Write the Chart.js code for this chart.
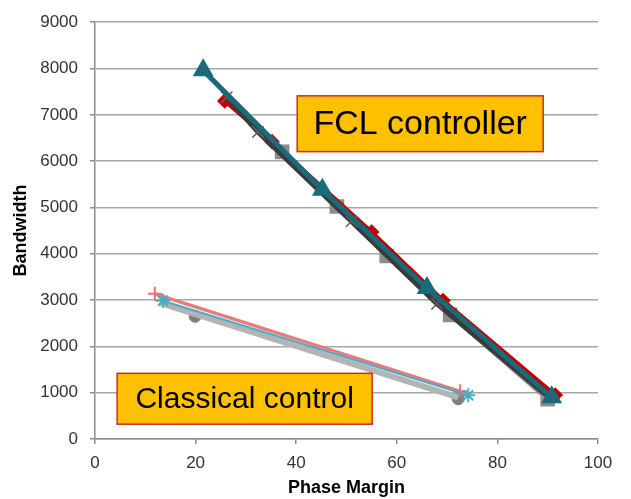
<!DOCTYPE html>
<html>
<head>
<meta charset="utf-8">
<script src="https://cdn.jsdelivr.net/npm/chart.js@4/dist/chart.umd.min.js"></script>
<style>
  body { margin: 0; background: #fff; }
  canvas { display: block; }
</style>
</head>
<body>
<canvas id="c" width="631" height="499"></canvas>
<script>
// FCL controller runs (upper bundle)
const fclSquareX = [37.2, 48.1, 58.0, 70.6, 90.0];
const fclSquareY = [6200, 5020, 3950, 2680, 860];
const fclDiamondX = [25.8, 35.2, 55.0, 69.2, 91.5];
const fclDiamondY = [7300, 6420, 4470, 2990, 950];
const fclCrossX = [26.2, 32.4, 51.0, 68.0, 90.3];
const fclCrossY = [7380, 6630, 4700, 2920, 900];
const fclTriangleX = [21.5, 45.2, 66.0, 90.8];
const fclTriangleY = [7960, 5380, 3260, 900];

// classical control runs (lower bundle)
const clsGrayX = [12.9, 72.2];
const clsGrayY = [2940, 900];
const clsCircleX = [19.9, 72.2];
const clsCircleY = [2650, 870];
const clsPlusX = [11.9, 72.6];
const clsPlusY = [3135, 1030];
const clsStarX = [13.5, 74.2];
const clsStarY = [2985, 945];

const xTicks = [0, 20, 40, 60, 80, 100];
const yTicks = [0, 1000, 2000, 3000, 4000, 5000, 6000, 7000, 8000, 9000];

function pts(xs, ys) {
  return xs.map((x, i) => ({x: x, y: ys[i]}));
}

// text boxes, in data units
const boxes = [
  {text: 'FCL controller', x0: 40.2, x1: 89.1, y0: 7410, y1: 6205, size: 34},
  {text: 'Classical control', x0: 4.4, x1: 55.1, y0: 1418, y1: 320, size: 30}
];

const boxPlugin = {
  id: 'boxes',
  afterDatasetsDraw(chart) {
    const ctx = chart.ctx;
    const xs = chart.scales.x, ys = chart.scales.y;
    boxes.forEach(b => {
      const l = xs.getPixelForValue(b.x0), r = xs.getPixelForValue(b.x1);
      const t = ys.getPixelForValue(b.y0), bt = ys.getPixelForValue(b.y1);
      ctx.save();
      ctx.fillStyle = '#FFC000';
      ctx.fillRect(l, t, r - l, bt - t);
      ctx.strokeStyle = '#D02828';
      ctx.lineWidth = 1.5;
      ctx.strokeRect(l, t, r - l, bt - t);
      ctx.fillStyle = '#000';
      ctx.font = b.size + 'px "Liberation Sans", Arial, sans-serif';
      ctx.textAlign = 'center';
      ctx.textBaseline = 'middle';
      ctx.fillText(b.text, (l + r) / 2, (t + bt) / 2 + 1);
      ctx.restore();
    });
  }
};

const tickFont = {family: '"Liberation Sans", Arial, sans-serif', size: 17};
const titleFont = {family: '"Liberation Sans", Arial, sans-serif', size: 18, weight: 'bold'};

// first dataset is drawn on top
new Chart(document.getElementById('c'), {
  type: 'scatter',
  data: {
    datasets: [
      {data: pts(fclTriangleX, fclTriangleY), showLine: true, borderColor: '#1B6A7A', borderWidth: 5,
        pointStyle: 'triangle', pointRadius: 7, pointBackgroundColor: '#1B6A7A', pointBorderColor: '#1B6A7A'},
      {data: pts(fclCrossX, fclCrossY), showLine: true, borderColor: '#3A3A3A', borderWidth: 5,
        pointStyle: 'crossRot', pointRadius: 8, pointBorderColor: '#606060', pointBorderWidth: 1.5},
      {data: pts(fclDiamondX, fclDiamondY), showLine: true, borderColor: '#C00000', borderWidth: 4,
        pointStyle: 'rectRot', pointRadius: 5, pointBackgroundColor: '#C00000', pointBorderColor: '#C00000'},
      {data: pts(fclSquareX, fclSquareY), showLine: true, borderColor: '#7F7F7F', borderWidth: 4,
        pointStyle: 'rect', pointRadius: 7.5, pointBackgroundColor: '#8C8C8C', pointBorderColor: '#8C8C8C'},
      {data: pts(clsStarX, clsStarY), showLine: true, borderColor: '#4BACC6', borderWidth: 2,
        pointStyle: 'star', pointRadius: 7, pointBorderColor: '#4BACC6', pointBorderWidth: 2},
      {data: pts(clsPlusX, clsPlusY), showLine: true, borderColor: '#E87C7C', borderWidth: 3.5,
        pointStyle: 'cross', pointRadius: 7, pointBorderColor: '#E87070', pointBorderWidth: 2},
      {data: pts(clsGrayX, clsGrayY), showLine: true, borderColor: '#B4B4B4', borderWidth: 6, pointRadius: 0},
      {data: pts(clsCircleX, clsCircleY), showLine: false,
        pointStyle: 'circle', pointRadius: 6, pointBackgroundColor: '#7F7F7F', pointBorderColor: '#7F7F7F'}
    ]
  },
  options: {
    responsive: false,
    animation: false,
    layout: {padding: {top: 20, right: 33, left: 0, bottom: 0}},
    plugins: {legend: {display: false}, tooltip: {enabled: false}},
    scales: {
      x: {
        type: 'linear', min: 0, max: 100,
        afterBuildTicks: s => { s.ticks = xTicks.map(v => ({value: v})); },
        afterFit: s => { s.height = 60; },
        grid: {display: true, drawOnChartArea: false, color: '#8C8C8C', tickLength: 5, lineWidth: 1.5},
        border: {color: '#8C8C8C', width: 1.5},
        ticks: {font: tickFont, color: '#333', padding: 9, maxRotation: 0, callback: v => String(v)},
        title: {display: true, text: 'Phase Margin', font: titleFont, color: '#000', padding: 0}
      },
      y: {
        type: 'linear', min: 0, max: 9000,
        afterBuildTicks: s => { s.ticks = yTicks.map(v => ({value: v})); },
        afterFit: s => { s.width = 95; },
        grid: {color: '#A6A6A6', lineWidth: 1.5, tickLength: 5, tickColor: '#8C8C8C'},
        border: {color: '#8C8C8C', width: 1.5},
        ticks: {font: tickFont, color: '#333', padding: 12, callback: v => String(v)},
        title: {display: true, text: 'Bandwidth', font: titleFont, color: '#000', padding: {top: 10, bottom: 0}}
      }
    }
  },
  plugins: [boxPlugin]
});
</script>
</body>
</html>
